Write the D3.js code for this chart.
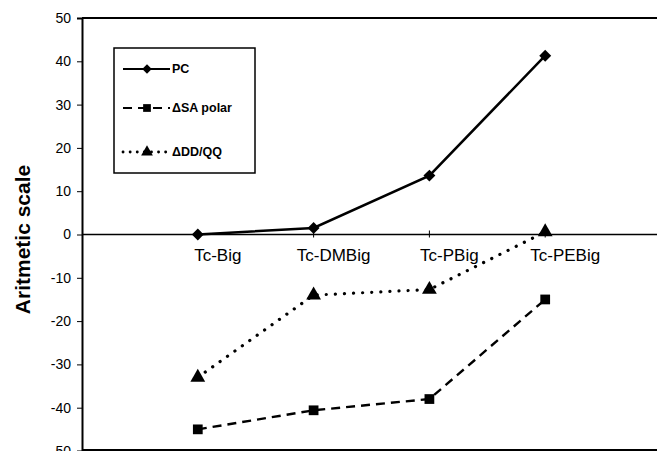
<!DOCTYPE html>
<html>
<head>
<meta charset="utf-8">
<script src="https://cdn.jsdelivr.net/npm/d3@7"></script>
<style>
  body { margin: 0; background: #fff; }
  text { font-family: Arial, "Liberation Sans", sans-serif; fill: #000; }
</style>
</head>
<body>
<svg id="chart" width="657" height="451"></svg>
<script>
// data
const categories = ['Tc-Big', 'Tc-DMBig', 'Tc-PBig', 'Tc-PEBig']
const pcValues = [0, 1.5, 13.6, 41.3]
const saValues = [-45, -40.6, -38, -15]
const ddValues = [-33, -14, -12.7, 0.6]
const yTicks = [50, 40, 30, 20, 10, 0, -10, -20, -30, -40, -50]

const series = [
  { name: 'PC', values: pcValues, dash: null, marker: 'diamond' },
  { name: '\u0394SA polar', values: saValues, dash: '9 6', marker: 'square' },
  { name: '\u0394DD/QQ', values: ddValues, dash: '0.1 9', marker: 'triangle' }
]

const width = 657
const left = 82
const svg = d3.select('#chart')

const x = d3.scalePoint().domain(categories).range([left, 661]).padding(1)
const y = d3.scaleLinear().domain([-50, 50]).range([451, 18])

// diamond = rotated square
function marker(type, size) {
  if (type === 'diamond') return d3.symbol().type(d3.symbolSquare).size(size * 0.75)()
  if (type === 'square') return d3.symbol().type(d3.symbolSquare).size(size)()
  return d3.symbol().type(d3.symbolTriangle).size(size)()
}
const rot = (type) => (type === 'diamond' ? ' rotate(45)' : '')

// frame: top line and bottom line
svg.append('line')
  .attr('x1', left).attr('x2', width)
  .attr('y1', y(50)).attr('y2', y(50))
  .attr('stroke', '#000').attr('stroke-width', 2)
svg.append('line')
  .attr('x1', left).attr('x2', width)
  .attr('y1', y(-50) - 1).attr('y2', y(-50) - 1)
  .attr('stroke', '#000').attr('stroke-width', 2)

// y axis
const yAxis = svg.append('g')
  .attr('transform', `translate(${left},0)`)
  .call(d3.axisLeft(y).tickValues(yTicks).tickSize(5).tickPadding(6)
    .tickFormat((d) => String(d)))
yAxis.select('.domain').attr('stroke-width', 2)
yAxis.selectAll('text')
  .style('font-size', '14px')
  .style('font-family', 'Arial, "Liberation Sans", sans-serif')
  .attr('fill', '#000')

// zero axis with category labels
svg.append('line')
  .attr('x1', left).attr('x2', width)
  .attr('y1', y(0)).attr('y2', y(0))
  .attr('stroke', '#000').attr('stroke-width', 1.5)
svg.append('g').selectAll('line')
  .data(categories).enter().append('line')
  .attr('x1', (d) => x(d)).attr('x2', (d) => x(d))
  .attr('y1', y(0) - 4).attr('y2', y(0) + 3)
  .attr('stroke', '#000')
svg.append('g').selectAll('text')
  .data(categories).enter().append('text')
  .attr('x', (d) => x(d) + 20)
  .attr('y', y(0) + 26)
  .attr('text-anchor', 'middle')
  .style('font-size', '17px')
  .text((d) => d)

// axis title
svg.append('text')
  .attr('transform', `translate(30,${(y(50) + y(-50)) / 2 + 5}) rotate(-90)`)
  .attr('text-anchor', 'middle')
  .style('font-size', '21px')
  .style('font-weight', 'bold')
  .text('Aritmetic scale')

// lines + markers
const line = d3.line()
  .x((d, i) => x(categories[i]))
  .y((d) => y(d))

series.forEach((s) => {
  const dotted = s.marker === 'triangle'
  svg.append('path')
    .datum(s.values)
    .attr('d', line)
    .attr('fill', 'none')
    .attr('stroke', '#000')
    .attr('stroke-width', dotted ? 3.2 : s.dash ? 2.4 : 2.5)
    .attr('stroke-dasharray', s.dash)
    .attr('stroke-linecap', dotted ? 'round' : 'butt')

  svg.append('g').selectAll('path')
    .data(s.values).enter().append('path')
    .attr('d', marker(s.marker, 95))
    .attr('transform', (d, i) => `translate(${x(categories[i])},${y(d)})` + rot(s.marker))
    .attr('fill', '#000')
})

// legend
const legend = svg.append('g').attr('transform', 'translate(114,48)')
legend.append('rect')
  .attr('width', 141).attr('height', 125)
  .attr('fill', '#fff').attr('stroke', '#000').attr('stroke-width', 1.5)
const rowsY = [21, 60, 104]
series.forEach((s, i) => {
  const dotted = s.marker === 'triangle'
  const g = legend.append('g').attr('transform', `translate(0,${rowsY[i]})`)
  g.append('line')
    .attr('x1', 9).attr('x2', 56)
    .attr('stroke', '#000').attr('stroke-width', dotted ? 2.8 : 2)
    .attr('stroke-dasharray', dotted ? '0.1 7' : s.dash)
    .attr('stroke-linecap', dotted ? 'round' : 'butt')
  g.append('path')
    .attr('d', marker(s.marker, 60))
    .attr('transform', 'translate(33,0)' + rot(s.marker))
    .attr('fill', '#000')
  g.append('text')
    .attr('x', 58).attr('y', 4)
    .style('font-size', '12.5px')
    .style('font-weight', 'bold')
    .text(s.name)
})
</script>
</body>
</html>
